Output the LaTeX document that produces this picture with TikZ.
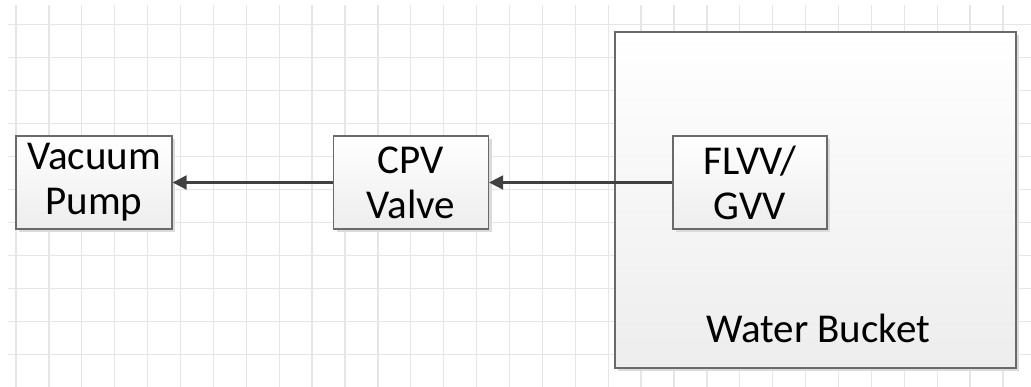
\documentclass[tikz,border=0pt]{standalone}
\usepackage{fontspec}
\setmainfont{Carlito}
\usepackage{tikz}
\usetikzlibrary{calc, positioning, shadows, arrows.meta}

\definecolor{gridgray}{HTML}{E6E6E6}
\definecolor{boxline}{HTML}{6A6A6A}
\definecolor{boxbottom}{HTML}{EDEDED}
\definecolor{arrowgray}{HTML}{404040}

\tikzset{
  unit/.style={draw=boxline, line width=1.3pt, top color=white, bottom color=boxbottom,
    drop shadow={shadow xshift=3pt, shadow yshift=-3pt, fill=black!14, opacity=1},
    align=center, inner sep=0pt, font=\fontsize{41}{45}\selectfont},
  flow/.style={draw=arrowgray, line width=2.2pt, -{Triangle[length=14pt, width=14pt]}}
}

\begin{document}
\begin{tikzpicture}[x=1pt, y=-1pt]
  \useasboundingbox (0,0) rectangle (1031,387);
  % background grid
  \foreach \i in {0,...,31}
    \draw [gridgray, line width=1.3pt] (16+32.9*\i,5) -- (16+32.9*\i,387);
  \foreach \j in {0,...,11}
    \draw [gridgray, line width=1.3pt] (8,24.3+33*\j) -- (1031,24.3+33*\j);
  % bucket
  \node [unit, minimum width=401pt, minimum height=336pt] (bucket) at (815.5,200) {};
  \node (bucketlabel) at (818,342) [anchor=base, font=\fontsize{41}{45}\selectfont] {Water Bucket};
  % units
  \node [unit, minimum width=156pt, minimum height=93pt] (pump) at (94,182.5) {Vacuum\\Pump};
  \node [unit, minimum width=155pt, minimum height=93pt] (cpv) at (411,182.5) {CPV\\Valve};
  \node [unit, minimum width=154pt, minimum height=93pt] (flvv) at (750,182.5) {FLVV/\\GVV};
  % lines
  \draw [flow] (flvv) -- (cpv);
  \draw [flow] (cpv) -- (pump);
\end{tikzpicture}
\end{document}
